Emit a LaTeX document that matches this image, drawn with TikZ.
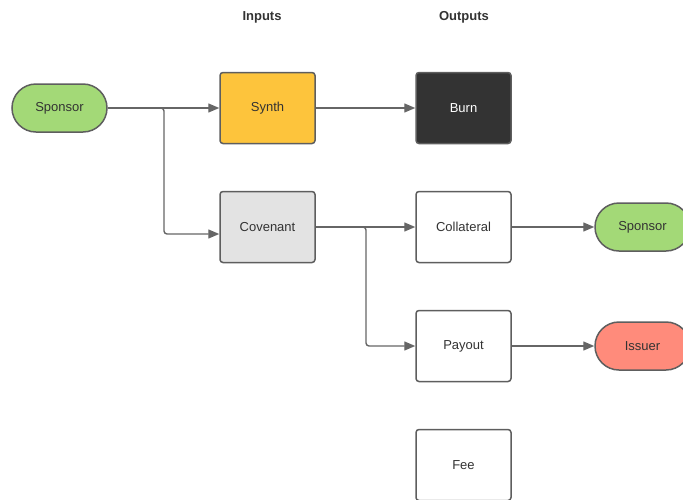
\documentclass[tikz,border=0pt]{standalone}
\usepackage{fontspec}
\setmainfont{Liberation Sans}
\usetikzlibrary{arrows.meta,shapes.misc}
\definecolor{lgreen}{HTML}{A3D977}
\definecolor{synthc}{HTML}{FDC43C}
\definecolor{burnc}{HTML}{333333}
\definecolor{covc}{HTML}{E3E3E3}
\definecolor{issc}{HTML}{FF8B7B}
\definecolor{edgec}{HTML}{5E5E5E}
\definecolor{linec}{HTML}{666666}
\definecolor{txtc}{HTML}{333333}
\tikzset{
  box/.style={draw=edgec, line width=1.5pt, rounded corners=3pt, minimum width=95pt, minimum height=71pt, inner sep=0pt, font=\fontsize{13}{15}\selectfont, text=txtc},
  pill/.style={draw=edgec, line width=1.5pt, rounded rectangle, minimum width=95pt, minimum height=48pt, inner sep=0pt, font=\fontsize{13}{15}\selectfont, text=txtc},
  conn/.style={draw=linec, line width=1.4pt, -{Triangle[length=11pt,width=9pt]}, rounded corners=3pt},
  head/.style={font=\bfseries\fontsize{13}{15}\selectfont, text=txtc}
}
\begin{document}
\begin{tikzpicture}[x=1pt,y=-1pt]
\useasboundingbox (0,0) rectangle (683,499);
\clip (0,0) rectangle (683,499);
\node[head] (hin) at (262,17) {Inputs};
\node[head] (hout) at (464,17) {Outputs};
\node[pill, fill=lgreen] (sp1) at (59.5,108) {Sponsor};
\node[box, fill=synthc] (synth) at (267.5,108) {Synth};
\node[box, fill=burnc, text=white] (burn) at (463.5,108) {Burn};
\node[box, fill=covc] (cov) at (267.5,227) {Covenant};
\node[box, fill=white] (coll) at (463.5,227) {Collateral};
\node[box, fill=white] (pay) at (463.5,346) {Payout};
\node[box, fill=white] (fee) at (463.5,465) {Fee};
\node[pill, fill=lgreen] (sp2) at (642.5,227) {Sponsor};
\node[pill, fill=issc] (iss) at (642.5,346) {Issuer};
\draw[conn] (sp1.east) -- (synth.west);
\draw[conn] (sp1.east) -- (164,108) |- ([yshift=-7pt]cov.west);
\draw[conn] (synth.east) -- (burn.west);
\draw[conn] (cov.east) -- (coll.west);
\draw[conn] (cov.east) -- (366,227) |- (pay.west);
\draw[conn] (coll.east) -- (sp2.west);
\draw[conn] (pay.east) -- (iss.west);
\end{tikzpicture}
\end{document}
